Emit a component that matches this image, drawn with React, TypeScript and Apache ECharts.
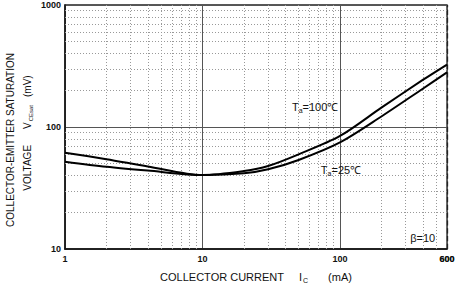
import React, { useEffect, useRef } from "react";
import * as echarts from "echarts";

const currents = [1, 2, 4, 10, 20, 30, 50, 100, 200, 400, 600];
const vTa25 = [61.5, 54.5, 47.5, 40.4, 41.7, 45.0, 53.7, 74.8, 122, 206, 280];
const vTa100 = [52, 47.2, 43.9, 40.4, 43.6, 47.9, 59.7, 84.4, 144, 243, 325];

const xMinor = [2, 3, 4, 5, 6, 7, 8, 9, 20, 30, 40, 50, 60, 70, 80, 90, 200, 300, 400, 500];
const yMinor = [20, 30, 40, 50, 60, 70, 80, 90, 200, 300, 400, 500, 600, 700, 800, 900];
const xTickLabels = ["1", "10", "100", "600"];
const yTickLabels = ["10", "100", "1000"];

const FONT = "'Liberation Sans', Arial, sans-serif";

export default function App() {
  const ref = useRef<HTMLDivElement>(null);
  useEffect(() => {
    if (!ref.current) return;
    const chart = echarts.init(ref.current, undefined, { renderer: "svg" });
    const tickStyle = { color: "#111", fontSize: 9, fontWeight: "bold" as const, fontFamily: FONT };
    const t = (size: number, extra: object = {}) => ({ fontSize: size, color: "#111", fontFamily: FONT, ...extra });
    chart.setOption({
      animation: false,
      backgroundColor: "#fff",
      textStyle: { fontFamily: FONT },
      grid: {
        left: 65,
        right: 9,
        top: 5,
        bottom: 37,
        containLabel: false,
        outerBoundsMode: "none",
        show: true,
        borderColor: "#222",
        borderWidth: 1.3,
        backgroundColor: "transparent",
      },
      graphic: [
        {
          type: "text",
          x: 10,
          y: 140,
          rotation: Math.PI / 2,
          silent: true,
          style: {
            text: "COLLECTOR-EMITTER SATURATION",
            fontSize: 10,
            fontFamily: FONT,
            fill: "#111",
            align: "center",
            verticalAlign: "middle",
          },
        },
        {
          type: "text",
          x: 27,
          y: 133,
          rotation: Math.PI / 2,
          silent: true,
          style: {
            text: "{b|VOLTAGE}{v|V}{sub|CEsat}{m|(mV)}",
            fontSize: 10,
            fontFamily: FONT,
            fill: "#111",
            align: "center",
            verticalAlign: "middle",
            rich: {
              b: t(10),
              v: t(10, { padding: [0, 0, 0, 16] }),
              sub: t(6, { padding: [7, 0, 0, 1] }),
              m: t(10, { padding: [0, 0, 0, 8] }),
            },
          },
        },
      ],
      xAxis: {
        type: "log",
        logBase: 10,
        min: 1,
        max: 600,
        axisLine: { show: true, lineStyle: { color: "#111", width: 1.5 } },
        axisTick: { show: false },
        axisLabel: {
          ...tickStyle,
          margin: 5,
          formatter: (v: number) => (xTickLabels.includes(String(v)) ? String(v) : ""),
        },
        splitLine: { show: true, lineStyle: { color: "#555", width: 1 } },
        name: "{a|COLLECTOR CURRENT}{i|I}{sub|C}{u|(mA)}",
        nameLocation: "middle",
        nameGap: 21,
        nameTextStyle: {
          color: "#111",
          fontSize: 11,
          fontFamily: FONT,
          rich: {
            a: t(11),
            i: t(11, { padding: [0, 0, 0, 15] }),
            sub: t(7, { padding: [7, 0, 0, 1] }),
            u: t(11, { padding: [0, 0, 0, 20] }),
          },
        },
      },
      yAxis: {
        type: "log",
        logBase: 10,
        min: 10,
        max: 1000,
        axisLine: { show: true, lineStyle: { color: "#111", width: 1.5 } },
        axisTick: { show: false },
        axisLabel: {
          ...tickStyle,
          margin: 4,
          formatter: (v: number) => (yTickLabels.includes(String(v)) ? String(v) : ""),
        },
        splitLine: { show: true, lineStyle: { color: "#555", width: 1 } },
      },
      series: [
        {
          type: "line",
          name: "grid-minor",
          data: [],
          silent: true,
          z: 1,
          markLine: {
            silent: true,
            symbol: ["none", "none"],
            label: { show: false },
            lineStyle: { color: "#999", width: 1, type: [1, 2] },
            data: [
              ...xMinor.map((v) => ({ xAxis: v })),
              ...yMinor.map((v) => ({ yAxis: v })),
            ],
          },
        },
        {
          type: "line",
          name: "Ta=25",
          data: currents.map((c, i) => [c, vTa25[i]]),
          showSymbol: false,
          smooth: 0.3,
          lineStyle: { color: "#000", width: 2 },
          z: 5,
          markPoint: {
            symbol: "circle",
            symbolSize: 0,
            silent: true,
            label: {
              show: true,
              position: "inside",
              color: "#111",
              fontSize: 11,
              fontFamily: FONT,
              formatter: "{t|T}{s|a}{t|=25℃}",
              rich: {
                t: t(11),
                s: t(7, { padding: [7, 0, 0, 0] }),
              },
            },
            data: [{ coord: [101.7, 44.4] }],
          },
        },
        {
          type: "line",
          name: "Ta=100",
          data: currents.map((c, i) => [c, vTa100[i]]),
          showSymbol: false,
          smooth: 0.3,
          lineStyle: { color: "#000", width: 2 },
          z: 5,
          markPoint: {
            symbol: "circle",
            symbolSize: 0,
            silent: true,
            label: {
              show: true,
              position: "inside",
              color: "#111",
              fontSize: 11,
              fontFamily: FONT,
              formatter: "{t|T}{s|a}{t|=100℃}",
              rich: {
                t: t(11),
                s: t(7, { padding: [7, 0, 0, 0] }),
              },
            },
            data: [{ coord: [65.9, 145.9] }],
          },
        },
        {
          type: "line",
          name: "beta",
          data: [],
          silent: true,
          markPoint: {
            symbol: "circle",
            symbolSize: 0,
            silent: true,
            label: {
              show: true,
              position: "inside",
              color: "#111",
              fontSize: 11,
              fontFamily: FONT,
              formatter: "β=10",
            },
            data: [{ coord: [399, 12.3] }],
          },
          markLine: {
            silent: true,
            symbol: ["none", "none"],
            lineStyle: { color: "#222", width: 1.3 },
            label: {
              show: true,
              position: "start",
              distance: 5,
              formatter: "600",
              ...tickStyle,
            },
            data: [{ xAxis: 600 }],
          },
        },
      ],
    });
    return () => chart.dispose();
  }, []);
  return (
    <div
      ref={ref}
      style={{ position: "fixed", left: 0, top: 0, width: 456, height: 286, background: "#fff" }}
    />
  );
}
